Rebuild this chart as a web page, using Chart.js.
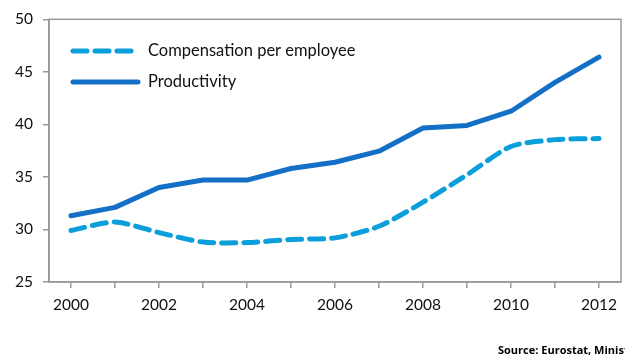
<!DOCTYPE html>
<html>
<head>
<meta charset="utf-8">
<script src="https://cdn.jsdelivr.net/npm/chart.js@4/dist/chart.umd.min.js"></script>
<style>
  html, body { margin: 0; padding: 0; background: #fff; }
  #wrap { position: relative; width: 625px; height: 358px; overflow: hidden; }
  #source {
    position: absolute; left: 498px; top: 342px; white-space: nowrap;
    font: bold 11px "Open Sans", sans-serif; color: #000;
  }
</style>
</head>
<body>
<div id="wrap">
  <canvas id="wageChart" width="625" height="358"></canvas>
  <div id="source">Source: Eurostat, Ministry of Finance</div>
</div>
<script>
// --- data ---
const years = ["2000", "2001", "2002", "2003", "2004", "2005", "2006",
  "2007", "2008", "2009", "2010", "2011", "2012"];
const compensation = [29.9, 30.7, 29.7, 28.8, 28.75, 29.05, 29.2, 30.3, 32.6, 35.2, 37.9, 38.55, 38.65];
const productivity = [31.3, 32.1, 34.0, 34.7, 34.7, 35.8, 36.4, 37.45, 39.65, 39.9, 41.25, 44.0, 46.4];
const yTicks = [25, 30, 35, 40, 45, 50];

const FONT = "Lato, sans-serif";
const AXIS = "#999999";

// legend drawn inside the plot, plus the box around the plot area
const framePlugin = {
  id: "frame",
  afterDraw(chart) {
    const { ctx, chartArea } = chart;
    ctx.save();
    ctx.strokeStyle = AXIS;
    ctx.lineWidth = 1.5;
    ctx.strokeRect(chartArea.left, chartArea.top, chartArea.right - chartArea.left, chartArea.bottom - chartArea.top);

    const rows = [51, 82];
    chart.data.datasets.forEach((ds, i) => {
      const y = rows[i];
      ctx.beginPath();
      ctx.strokeStyle = ds.borderColor;
      ctx.lineWidth = ds.borderWidth;
      ctx.lineCap = "round";
      ctx.setLineDash(ds.borderDash || []);
      ctx.moveTo(73, y);
      ctx.lineTo(138, y);
      ctx.stroke();
      ctx.setLineDash([]);
      ctx.fillStyle = "#111";
      ctx.font = "16.5px " + FONT;
      ctx.textBaseline = "middle";
      ctx.fillText(ds.label, 148, y);
    });
    ctx.restore();
  },
};

new Chart(document.getElementById("wageChart"), {
  type: "line",
  data: {
    labels: years,
    datasets: [
      {
        label: "Compensation per employee",
        data: compensation,
        borderColor: "#0a9fdb",
        borderWidth: 5,
        borderDash: [14, 8],
        borderCapStyle: "round",
        tension: 0.25,
        pointRadius: 0,
        fill: false,
      },
      {
        label: "Productivity",
        data: productivity,
        borderColor: "#1470c6",
        borderWidth: 5,
        borderCapStyle: "round",
        borderJoinStyle: "round",
        tension: 0,
        pointRadius: 0,
        fill: false,
      },
    ],
  },
  options: {
    responsive: false,
    animation: false,
    layout: { padding: { top: 19, right: 1, left: 0, bottom: 0 } },
    plugins: { legend: { display: false }, tooltip: { enabled: false } },
    scales: {
      x: {
        offset: true,
        grid: { display: true, drawOnChartArea: false, drawTicks: true, tickLength: 6, color: AXIS, lineWidth: 1.5 },
        border: { color: AXIS, width: 1.5 },
        ticks: {
          autoSkip: false,
          maxRotation: 0,
          padding: 8,
          color: "#111",
          font: { family: FONT, size: 15.5 },
          callback: (v, i) => (i % 2 === 0 ? years[i] : ""),
        },
        afterFit: (axis) => { axis.height = 76; },
      },
      y: {
        min: 25,
        max: 50,
        afterBuildTicks: (axis) => { axis.ticks = yTicks.map((v) => ({ value: v })); },
        grid: { display: true, drawOnChartArea: false, drawTicks: true, tickLength: 6, color: AXIS, lineWidth: 1.5 },
        border: { color: AXIS, width: 1.5 },
        ticks: { padding: 10, color: "#111", font: { family: FONT, size: 15.5 } },
        afterFit: (axis) => { axis.width = 49; },
      },
    },
  },
  plugins: [framePlugin],
});
</script>
</body>
</html>
